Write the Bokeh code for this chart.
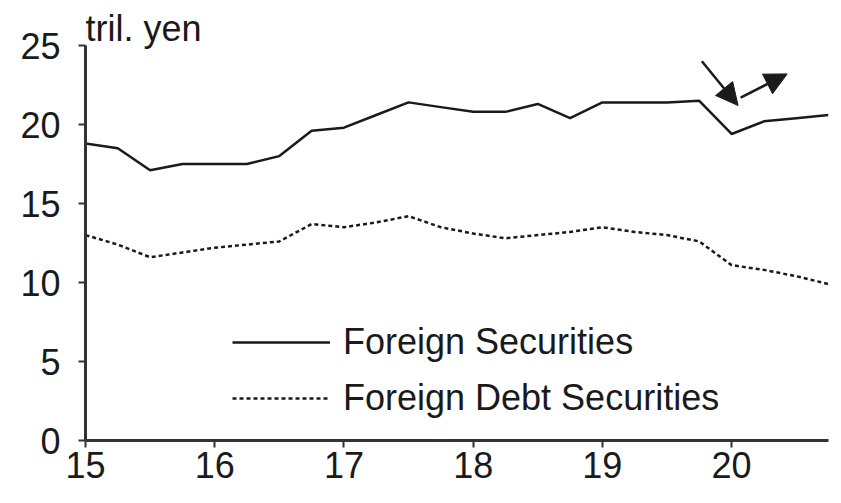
from bokeh.plotting import figure
from bokeh.models import (Legend, LegendItem, Arrow, NormalHead, FixedTicker, Range1d,
                          LinearAxis, CustomJSTickFormatter)
from bokeh.embed import file_html
from bokeh.resources import INLINE

# quarterly positions (calendar year, 2-digit)
periods = [15.0, 15.25, 15.5, 15.75, 16.0, 16.25, 16.5, 16.75,
           17.0, 17.25, 17.5, 17.75, 18.0, 18.25, 18.5, 18.75,
           19.0, 19.25, 19.5, 19.75, 20.0, 20.25, 20.5, 20.75]
foreign_securities = [18.8, 18.5, 17.1, 17.5, 17.5, 17.5, 18.0, 19.6,
                      19.8, 20.6, 21.4, 21.1, 20.8, 20.8, 21.3, 20.4,
                      21.4, 21.4, 21.4, 21.5, 19.4, 20.2, 20.4, 20.6]
foreign_debt_securities = [13.0, 12.4, 11.6, 11.9, 12.2, 12.4, 12.6, 13.7,
                           13.5, 13.8, 14.2, 13.5, 13.1, 12.8, 13.0, 13.2,
                           13.5, 13.2, 13.0, 12.6, 11.1, 10.8, 10.4, 9.9]
x_ticks = [15, 16, 17, 18, 19, 20]
y_ticks = [0, 5, 10, 15, 20, 25]
cy_position = [20.55]

FONT = "Liberation Sans"
FS = "36px"
INK = "#1a1a1a"

p = figure(width=833, height=495, output_backend="svg", toolbar_location=None,
           x_range=Range1d(15, 20.75), y_range=Range1d(0, 25),
           min_border_left=85, min_border_right=5, min_border_top=45, min_border_bottom=55,
           title="tril. yen")
p.outline_line_color = None
p.xgrid.visible = False
p.ygrid.visible = False
p.background_fill_color = "white"

p.title.text_font = FONT
p.title.text_font_size = FS
p.title.text_font_style = "normal"
p.title.text_color = INK
p.title.align = "left"
p.title.standoff = -7

r1 = p.line(periods, foreign_securities, line_color=INK, line_width=2.5)
r2 = p.line(periods, foreign_debt_securities, line_color=INK, line_width=2.5, line_dash="4 3")

for ax in (p.xaxis[0], p.yaxis[0]):
    ax.axis_line_color = "#333333"
    ax.axis_line_width = 3
    ax.major_tick_line_color = "#333333"
    ax.major_tick_line_width = 2
    ax.major_tick_out = 7
    ax.major_tick_in = 0
    ax.minor_tick_line_color = None
    ax.major_label_text_font = FONT
    ax.major_label_text_font_size = FS
    ax.major_label_text_color = INK

p.xaxis[0].ticker = FixedTicker(ticks=x_ticks)
p.yaxis[0].ticker = FixedTicker(ticks=y_ticks)
p.xaxis[0].major_label_standoff = 4
p.yaxis[0].major_label_standoff = 18
p.yaxis[0].major_label_text_baseline = "alphabetic"

# "CY" unit label on the same row as the year labels
cy_axis = LinearAxis(fixed_location=0, ticker=FixedTicker(ticks=cy_position),
                     formatter=CustomJSTickFormatter(code="return 'CY'"),
                     axis_line_color=None, major_tick_line_color=None,
                     minor_tick_line_color=None, major_tick_out=7, major_tick_in=0,
                     major_label_standoff=4, major_label_text_font=FONT,
                     major_label_text_font_size=FS, major_label_text_color=INK)
p.add_layout(cy_axis, "below")

head1 = NormalHead(size=22, fill_color=INK, line_color=INK)
head2 = NormalHead(size=22, fill_color=INK, line_color=INK)
p.add_layout(Arrow(end=head1, x_start=19.77, y_start=24.0, x_end=20.05, y_end=21.2,
                   line_color=INK, line_width=2.5))
p.add_layout(Arrow(end=head2, x_start=20.07, y_start=21.7, x_end=20.43, y_end=23.2,
                   line_color=INK, line_width=2.5))

legend = Legend(items=[LegendItem(label="Foreign Securities", renderers=[r1]),
                       LegendItem(label="Foreign Debt Securities", renderers=[r2])],
                location=(147, 21), orientation="vertical",
                background_fill_alpha=0, border_line_color=None,
                label_text_font=FONT, label_text_font_size=FS, label_text_color=INK,
                glyph_width=98, glyph_height=30, label_height=30, label_standoff=13,
                spacing=14, padding=0, margin=0)
p.add_layout(legend)

open("out.html", "w").write(file_html(p, INLINE))
